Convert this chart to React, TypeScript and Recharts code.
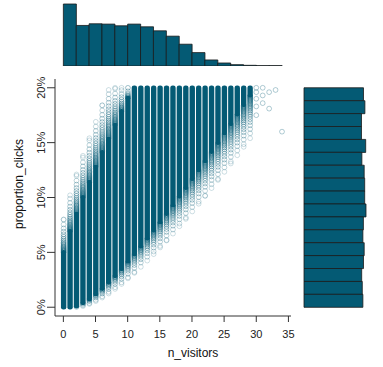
import { ComposedChart, Bar, Scatter, XAxis, YAxis } from 'recharts';

const TEAL = '#045a74';
const EDGE = '#1b1b1b';
const FONT = '"Liberation Sans", Arial, Helvetica, sans-serif';

// scatter columns, one per n_visitors value
const N_VISITORS = [0, 1, 2, 3, 4, 5, 6, 7, 8, 9, 10, 11, 12, 13, 14, 15, 16, 17, 18, 19, 20, 21, 22, 23, 24, 25, 26, 27, 28, 29];
const LO_SPARSE = [0, 0, 0, 0.001, 0.003, 0.0056, 0.0088, 0.0125, 0.0167, 0.0212, 0.0263, 0.0313, 0.0368, 0.0425, 0.0484, 0.0545, 0.0608, 0.0671, 0.0738, 0.0805, 0.0873, 0.0943, 0.1014, 0.1086, 0.116, 0.1234, 0.131, 0.1385, 0.1462, 0.154];
const LO_DENSE = [0, 0, 0.001, 0.004, 0.0075, 0.012, 0.017, 0.0227, 0.0287, 0.035, 0.0417, 0.0485, 0.0555, 0.0628, 0.07, 0.0775, 0.0853, 0.093, 0.101, 0.109, 0.117, 0.125, 0.1333, 0.1418, 0.15, 0.1587, 0.1672, 0.1758, 0.1845, 0.1932];
const HI_DENSE = [0.05, 0.069, 0.085, 0.1, 0.114, 0.128, 0.141, 0.1535, 0.166, 0.1785, 0.1905, 0.2, 0.2, 0.2, 0.2, 0.2, 0.2, 0.2, 0.2, 0.2, 0.2, 0.2, 0.2, 0.2, 0.2, 0.2, 0.2, 0.2, 0.2, 0.2];
const HI_SPARSE = [0.08, 0.102, 0.121, 0.138, 0.154, 0.169, 0.184, 0.198, 0.2, 0.2, 0.2, 0.2, 0.2, 0.2, 0.2, 0.2, 0.2, 0.2, 0.2, 0.2, 0.2, 0.2, 0.2, 0.2, 0.2, 0.2, 0.2, 0.2, 0.2, 0.2];

// lone points to the right
const OUTLIER_N = [30, 30, 30, 30, 30, 31, 31, 31, 32, 32, 33, 34];
const OUTLIER_P = [0.2, 0.196, 0.19, 0.183, 0.175, 0.2, 0.193, 0.186, 0.196, 0.181, 0.198, 0.16];

const X_TICKS = [0, 5, 10, 15, 20, 25, 30, 35];
const Y_TICKS = [0, 0.05, 0.1, 0.15, 0.2];

// marginal histograms
const TOP_BIN_MID = [1, 3, 5, 7, 9, 11, 13, 15, 17, 19, 21, 23, 25, 27, 29, 31, 33];
const TOP_COUNTS = [14764, 9657, 10056, 9976, 9577, 9976, 9338, 8380, 7103, 5188, 3192, 1437, 718, 319, 160, 80, 80];
const RIGHT_BIN_MID = [0.00588, 0.01765, 0.02941, 0.04118, 0.05294, 0.06471, 0.07647, 0.08824, 0.1, 0.11176, 0.12353, 0.13529, 0.14706, 0.15882, 0.17059, 0.18235, 0.19412];
const RIGHT_COUNTS = [5865, 6003, 5667, 5667, 6082, 5706, 5934, 5983, 5983, 6112, 5855, 5805, 5934, 5865, 5687, 5746, 5805];

const X_DOMAIN = [-1.3, 35.4];
const Y_DOMAIN = [-0.008, 0.208];

const columns = N_VISITORS.map((n, i) => ({
  n,
  loS: LO_SPARSE[i],
  loD: LO_DENSE[i],
  hiD: HI_DENSE[i],
  hiS: HI_SPARSE[i],
}));
const outliers = OUTLIER_N.map((n, i) => ({ n, p: OUTLIER_P[i] }));
const topHist = TOP_BIN_MID.map((mid, i) => ({ mid, count: TOP_COUNTS[i] }));
const rightHist = RIGHT_BIN_MID.map((mid, i) => ({ mid, count: RIGHT_COUNTS[i] }));

const R = 2.4;

function Column(props: any) {
  const { x, width, payload } = props;
  let { y, height } = props;
  if (!payload || height == null) return null;
  if (height < 0) { y += height; height = -height; }
  const span = payload.hiS - payload.loS;
  const py = (v: number) => y + (height * (payload.hiS - v)) / span;
  const cx = x + width / 2;
  const rings: any[] = [];
  // thinning rings between the solid core and the outermost points
  const fringe = (from: number, to: number, dir: number, key: string) => {
    const len = Math.abs(to - from);
    let d = 0.8;
    let i = 0;
    while (d < len) {
      const t = d / len;
      rings.push(
        <circle key={key + i} cx={cx} cy={from + dir * d} r={R} fill="none" stroke={TEAL}
          strokeWidth={0.9} strokeOpacity={0.62 - 0.4 * t} />
      );
      d += 0.9 + 4 * t * t + 1.2 * t;
      i++;
    }
    if (len > 2) {
      rings.push(<circle key={key + 'end'} cx={cx} cy={to} r={R} fill="none" stroke={TEAL} strokeWidth={0.9} strokeOpacity={0.22} />);
    }
  };
  const yTop = py(payload.hiD);
  const yBot = py(payload.loD);
  fringe(yTop, py(payload.hiS), -1, 'u');
  fringe(yBot, py(payload.loS), 1, 'd');
  return (
    <g>
      {rings}
      <rect x={cx - R - 0.3} y={yTop - R} width={2 * R + 0.6} height={yBot - yTop + 2 * R} rx={R} fill={TEAL} />
    </g>
  );
}

const Ring = (p: any) => (
  <circle cx={p.cx} cy={p.cy} r={R} fill="none" stroke={TEAL} strokeWidth={0.9} strokeOpacity={0.35} />
);

const XTick = ({ x, y, payload }: any) => (
  <text x={x} y={y + 14} textAnchor="middle" fontSize={11} fontFamily={FONT} fill="#222">{payload.value}</text>
);

const YTick = ({ x, y, payload }: any) => (
  <text x={x} y={y} transform={`rotate(-90 ${x} ${y})`} textAnchor="middle" fontSize={11} fontFamily={FONT} fill="#222">
    {`${Math.round(payload.value * 100)}%`}
  </text>
);

const abs = { position: 'absolute' as const, left: 0, top: 0 };

export default function App() {
  return (
    <div style={{ position: 'absolute', left: 0, top: 0, width: 383, height: 367, background: '#fff', overflow: 'hidden' }}>
      <div style={abs}>
        <ComposedChart width={383} height={66} data={topHist} margin={{ top: 4, right: 92, bottom: 0, left: 55 }} barCategoryGap={0} barGap={0}>
          <XAxis dataKey="mid" type="number" domain={X_DOMAIN} hide />
          <YAxis type="number" domain={[0, 14764]} hide />
          <Bar dataKey="count" fill={TEAL} stroke={EDGE} strokeWidth={0.8} isAnimationActive={false} />
        </ComposedChart>
      </div>

      <div style={abs}>
        <ComposedChart width={383} height={367} data={rightHist} layout="vertical" margin={{ top: 79, right: 17, bottom: 51, left: 304 }} barCategoryGap={0} barGap={0}>
          <XAxis type="number" domain={[0, 6112]} hide />
          <YAxis dataKey="mid" type="number" domain={Y_DOMAIN} hide />
          <Bar dataKey="count" fill={TEAL} stroke={EDGE} strokeWidth={0.8} isAnimationActive={false} />
        </ComposedChart>
      </div>

      <div style={abs}>
        <ComposedChart width={383} height={367} data={columns} margin={{ top: 79, right: 92, bottom: 0, left: 0 }}>
          <XAxis dataKey="n" type="number" domain={X_DOMAIN} ticks={X_TICKS} allowDataOverflow height={51}
            tickSize={6} tickMargin={2} tick={<XTick />} stroke="#333" />
          <XAxis xAxisId="top" orientation="top" type="number" domain={X_DOMAIN} height={0} tick={false} tickLine={false} stroke="#333" />
          <YAxis type="number" domain={Y_DOMAIN} ticks={Y_TICKS} allowDataOverflow width={55}
            tickSize={8} tickMargin={2} tick={<YTick />} stroke="#333" />
          <YAxis yAxisId="right" orientation="right" type="number" domain={Y_DOMAIN} width={0} tick={false} tickLine={false} stroke="#333" />
          <Bar dataKey={(d: any) => [d.loS, d.hiS]} barSize={5} shape={<Column />} isAnimationActive={false} />
          <Scatter data={outliers} dataKey="p" shape={<Ring />} isAnimationActive={false} />
        </ComposedChart>
      </div>

      <div style={{ position: 'absolute', left: 0, top: 345, width: 386, textAlign: 'center', fontFamily: FONT, fontSize: 12, lineHeight: '16px', color: '#111' }}>
        n_visitors
      </div>
      <div style={{ position: 'absolute', left: 19 - 60, top: 184 - 8, width: 120, height: 16, textAlign: 'center', fontFamily: FONT, fontSize: 12, lineHeight: '16px', color: '#111', transform: 'rotate(-90deg)' }}>
        proportion_clicks
      </div>
    </div>
  );
}
